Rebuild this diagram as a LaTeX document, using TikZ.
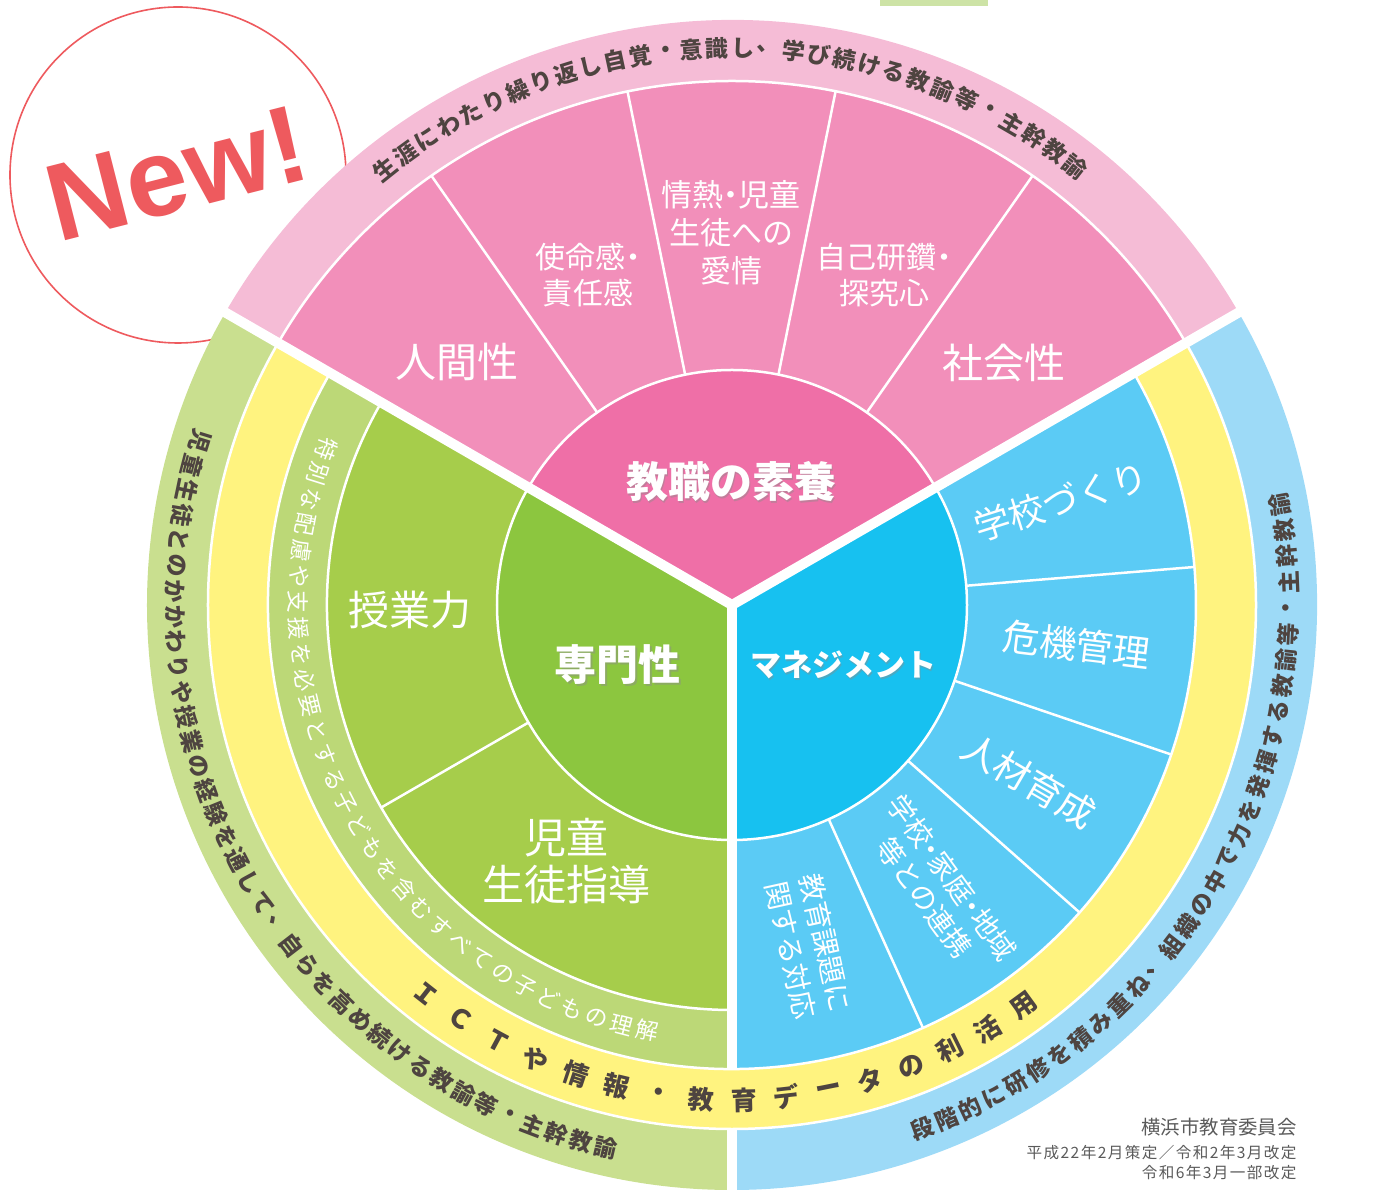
\documentclass[tikz,border=0pt]{standalone}
\usepackage{fontspec}
\setmainfont{Liberation Sans}
\newfontfamily\jp{Noto Sans CJK JP}
\newcommand{\nd}{\makebox[0.5em][c]{・}}
\definecolor{pkO}{HTML}{F5BCD6}
\definecolor{pkS}{HTML}{F28FBA}
\definecolor{pkH}{HTML}{EF6FA7}
\definecolor{gnO}{HTML}{C9DF8F}
\definecolor{gnL}{HTML}{BCD877}
\definecolor{gnS}{HTML}{A6CD4B}
\definecolor{gnH}{HTML}{8CC63F}
\definecolor{yl}{HTML}{FFF37F}
\definecolor{blO}{HTML}{9DDAF7}
\definecolor{blS}{HTML}{5BCBF5}
\definecolor{blH}{HTML}{17C1F0}
\definecolor{newred}{HTML}{EE5A5E}
\definecolor{txt}{HTML}{4E4440}
\definecolor{foot}{HTML}{5A5A5A}
\definecolor{topgn}{HTML}{CDE3A6}
\newcommand{\annsec}[5]{\fill[#5] (#3:#1) arc[start angle=#3,end angle=#4,radius=#1] -- (#4:#2) arc[start angle=#4,end angle=#3,radius=#2] -- cycle;}
\newcommand{\hubsec}[3]{\fill[#3] (0,0) -- (#1:235) arc[start angle=#1,end angle=#2,radius=235] -- cycle;}
\tikzset{
  thinw/.style={white, line width=1.25pt},
  sepw/.style={white, line width=5pt},
  otxt/.style={inner sep=0pt, text=txt, font=\jp\fontsize{11.5}{12}\selectfont\bfseries},
  ytxt/.style={inner sep=0pt, text=txt, font=\jp\fontsize{13}{14}\selectfont\bfseries},
  ltxt/.style={inner sep=0pt, text=white, font=\jp\fontsize{11.3}{12}\selectfont},
  sublbl/.style={inner sep=0pt, text=white, align=center},
  hublbl/.style={inner sep=0pt, text=white, font=\jp\bfseries\fontsize{21}{24}\selectfont},
  hubsh/.style={inner sep=0pt, text=black!45, opacity=0.45, font=\jp\bfseries\fontsize{21}{24}\selectfont},
  foottxt/.style={inner sep=0pt, text=foot, anchor=east},
}
\begin{document}
\begin{tikzpicture}[x=0.5pt,y=0.5pt]
\useasboundingbox (-732,-587) rectangle (659,605);
\clip (-732,-587) rectangle (659,605);
% top clipped stub
\fill[topgn] (148,599) rectangle (256,605);
% New! badge
\draw[newred, line width=0.8pt, fill=white] (-554,430) circle[radius=168];
\node[inner sep=0pt, text=newred, rotate=14.3, font=\fontsize{55}{55}\selectfont\bfseries] (new) at (-555,431) {New!};
% pink sector
\hubsec{30}{150}{pkH}
\annsec{235}{524}{30}{150}{pkS}
\annsec{524}{585}{30}{150}{pkO}
% green sector
\hubsec{150}{270}{gnH}
\annsec{235}{405}{150}{270}{gnS}
\annsec{405}{464}{150}{270}{gnL}
\annsec{524}{585}{150}{270}{gnO}
% blue sector
\hubsec{-90}{30}{blH}
\annsec{235}{464}{-90}{30}{blS}
\annsec{524}{585}{-90}{30}{blO}
% yellow ring
\annsec{464}{524}{150}{390}{yl}
% thin white arcs
\draw[thinw] (0,0) circle[radius=235];
\draw[thinw] (0,0) circle[radius=524];
\draw[thinw] (150:405) arc[start angle=150,end angle=270,radius=405];
\draw[thinw] (150:464) arc[start angle=150,end angle=390,radius=464];
% thin dividers
\foreach \a in {55,78.6,101.5,125} {\draw[thinw] (\a:235) -- (\a:524);}
\draw[thinw] (210:235) -- (210:405);
\foreach \a in {4.7,-18.8,-41.5,-65.7} {\draw[thinw] (\a:235) -- (\a:464);}
% thick separators
\draw[sepw] (0,0) -- (30:592);
\draw[sepw] (0,0) -- (150:592);
\draw[sepw] (0,0) -- (270:464);
\draw[sepw] (270:524) -- (270:592);
% outer band texts
\foreach \c [count=\i from 0] in {生,涯,に,わ,た,り,繰,り,返,し,自,覚,・,意,識,し,、,学,び,続,け,る,教,諭,等,・,主,幹,教,諭} {
  \pgfmathsetmacro\a{128.5-2.64*\i}
  \node[otxt, rotate=\a-90] (po\i) at (\a:557) {\c};
}
\foreach \c [count=\i from 0] in {児,童,生,徒,と,の,か,か,わ,り,や,授,業,の,経,験,を,通,し,て,、,自,ら,を,高,め,続,け,る,教,諭,等,・,主,幹,教,諭} {
  \pgfmathsetmacro\a{162.9+2.61*\i}
  \node[otxt, rotate=\a+90] (go\i) at (\a:557) {\c};
}
\foreach \c [count=\i from 0] in {段,階,的,に,研,修,を,積,み,重,ね,、,組,織,の,中,で,力,を,発,揮,す,る,教,諭,等,・,主,幹,教,諭} {
  \pgfmathsetmacro\a{290+2.68*\i}
  \node[otxt, rotate=\a+90] (bo\i) at (\a:557) {\c};
}
% yellow ring text
\foreach \c [count=\i from 0] in {Ｉ,Ｃ,Ｔ,や,情,報,・,教,育,デ,ー,タ,の,利,活,用} {
  \pgfmathsetmacro\a{231.8+4.95*\i}
  \node[ytxt, rotate=\a+90] (yt\i) at (\a:495) {\c};
}
% light green band text
\foreach \c [count=\i from 0] in {特,別,な,配,慮,や,支,援,を,必,要,と,す,る,子,ど,も,を,含,む,す,べ,て,の,子,ど,も,の,理,解} {
  \pgfmathsetmacro\a{159+3.44*\i}
  \node[ltxt, rotate=\a+90] (lt\i) at (\a:434) {\c};
}
% hub labels
\node[hubsh] (h1s) at (0.5,121.5) {教職の素養};
\node[hublbl] (h1) at (-1,123) {教職の素養};
\node[hubsh] (h2s) at (-112.5,-61.5) {専門性};
\node[hublbl] (h2) at (-114,-60) {専門性};
\node[hubsh, font=\jp\bfseries\fontsize{15.5}{18}\selectfont] (h3s) at (112.5,-61.5) {マネジメント};
\node[hublbl, font=\jp\bfseries\fontsize{15.5}{18}\selectfont] (h3) at (111,-60) {マネジメント};
% pink sub labels
\node[sublbl, font=\jp\fontsize{20.5}{24}\selectfont] (p1) at (-275,243) {人間性};
\node[sublbl, font=\jp\fontsize{15}{18}\selectfont] (p2) at (-144,330) {使命感\nd\\責任感};
\node[sublbl, font=\jp\fontsize{15.5}{19}\selectfont] (p3) at (-1,372) {情熱\nd 児童\\生徒への\\愛情};
\node[sublbl, font=\jp\fontsize{15}{18}\selectfont] (p4) at (152,330) {自己研鑽\nd\\探究心};
\node[sublbl, font=\jp\fontsize{20.5}{24}\selectfont] (p5) at (272,242) {社会性};
% green sub labels
\node[sublbl, font=\jp\fontsize{20.5}{24}\selectfont] (g1) at (-322,-5) {授業力};
\node[sublbl, font=\jp\fontsize{21}{23.5}\selectfont] (g2) at (-165,-256) {児童\\生徒指導};
% blue sub labels
\node[sublbl, font=\jp\fontsize{18}{22}\selectfont, rotate=17.5] (b1) at (17.5:345) {学校づくり};
\node[sublbl, font=\jp\fontsize{18.5}{22}\selectfont, rotate=-7] (b2) at (-6.6:347) {危機管理};
\node[sublbl, font=\jp\fontsize{18.5}{22}\selectfont, rotate=-30.3] (b3) at (-30.6:345) {人材育成};
\node[sublbl, font=\jp\fontsize{14}{17}\selectfont, rotate=-54] (b4) at (-53.9:350) {学校\nd 家庭\nd 地域\\等との連携};
\node[sublbl, font=\jp\fontsize{14}{17.5}\selectfont, rotate=-77.5] (b5) at (-77.4:350) {教育課題に\\関する対応};
% footer
\node[foottxt, font=\jp\fontsize{9.7}{11}\selectfont] (f1) at (565,-522) {横浜市教育委員会};
\node[foottxt, font=\jp\fontsize{7.8}{9}\selectfont\addfontfeature{LetterSpace=9}] (f2) at (565,-548) {平成22年2月策定／令和2年3月改定};
\node[foottxt, font=\jp\fontsize{7.8}{9}\selectfont\addfontfeature{LetterSpace=9}] (f3) at (565,-568) {令和6年3月一部改定};
\end{tikzpicture}
\end{document}
